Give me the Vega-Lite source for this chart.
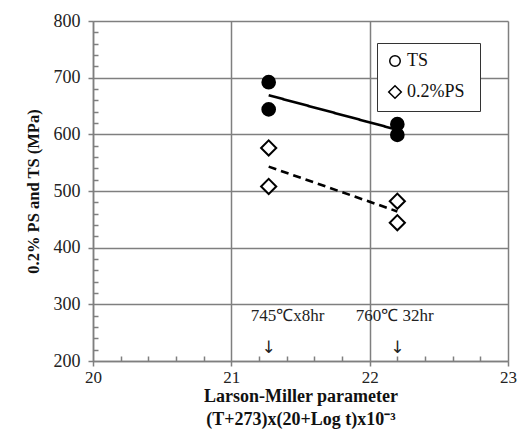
{
  "$schema": "https://vega.github.io/schema/vega-lite/v6.json",
  "autosize": {"type": "none"},
  "width": 415,
  "height": 340,
  "padding": {"left": 93, "top": 21, "right": 11, "bottom": 71},
  "background": "white",
  "config": {
    "font": "Liberation Serif",
    "view": {"stroke": null},
    "axis": {"labelFont": "Liberation Serif", "titleFont": "Liberation Serif"}
  },
  "datasets": {
    "points": [
      {"lmp": 21.27, "stress": 692, "series": "TS"},
      {"lmp": 21.27, "stress": 644, "series": "TS"},
      {"lmp": 22.2, "stress": 618, "series": "TS"},
      {"lmp": 22.2, "stress": 599, "series": "TS"},
      {"lmp": 21.27, "stress": 576, "series": "0.2%PS"},
      {"lmp": 21.27, "stress": 508, "series": "0.2%PS"},
      {"lmp": 22.2, "stress": 482, "series": "0.2%PS"},
      {"lmp": 22.2, "stress": 444, "series": "0.2%PS"}
    ],
    "lines": [
      {"lmp": 21.27, "stress": 669, "fit": "TS mean"},
      {"lmp": 22.2, "stress": 608, "fit": "TS mean"},
      {"lmp": 21.27, "stress": 543, "fit": "PS mean"},
      {"lmp": 22.2, "stress": 464, "fit": "PS mean"}
    ],
    "notes": [
      {"lmp": 21.14, "stress": 279, "label": "745℃x8hr"},
      {"lmp": 21.9, "stress": 279, "label": "760℃ 32hr"}
    ],
    "arrows": [
      {"lmp": 21.27, "stress": 223, "label": "↓"},
      {"lmp": 22.2, "stress": 223, "label": "↓"}
    ]
  },
  "layer": [
    {
      "data": {"name": "lines"},
      "mark": {"type": "line", "color": "black", "strokeWidth": 2.6},
      "encoding": {
        "x": {
          "field": "lmp", "type": "quantitative",
          "scale": {"domain": [20, 23], "nice": false, "zero": false},
          "axis": {
            "title": ["Larson-Miller parameter", "(T+273)x(20+Log  t)x10⁻³"],
            "titleFontSize": 18, "titleFontWeight": "bold", "titleColor": "#111",
            "titlePadding": 2, "titleLineHeight": 23,
            "tickCount": 100,
            "values": [20, 20.2, 20.4, 20.6, 20.8, 21, 21.2, 21.4, 21.6, 21.8, 22, 22.2, 22.4, 22.6, 22.8, 23],
            "labelExpr": "abs(datum.value - round(datum.value)) < 0.001 ? format(datum.value, 'd') : ''",
            "labelFontSize": 17, "labelColor": "#222", "labelPadding": 3,
            "labelFlush": false, "labelOverlap": false,
            "domainColor": "#7f7f7f", "domainWidth": 1.5,
            "tickColor": "#7f7f7f", "tickWidth": 1.5,
            "tickSize": {"condition": {"test": "abs(datum.value - round(datum.value)) < 0.001", "value": 5}, "value": -5},
            "grid": true, "gridColor": "#7f7f7f", "gridWidth": 1.5,
            "gridOpacity": {"condition": {"test": "abs(datum.value - round(datum.value)) < 0.001", "value": 1}, "value": 0}
          }
        },
        "y": {
          "field": "stress", "type": "quantitative",
          "scale": {"domain": [200, 800], "nice": false, "zero": false},
          "axis": {
            "title": "0.2% PS and TS (MPa)",
            "titleFontSize": 16.5, "titleFontWeight": "bold", "titleColor": "#111",
            "titlePadding": 12,
            "tickCount": 100,
            "values": [200, 220, 240, 260, 280, 300, 320, 340, 360, 380, 400, 420, 440, 460, 480, 500, 520, 540, 560, 580, 600, 620, 640, 660, 680, 700, 720, 740, 760, 780, 800],
            "labelExpr": "datum.value % 100 == 0 ? format(datum.value, 'd') : ''",
            "labelFontSize": 18, "labelColor": "#222", "labelPadding": 8,
            "labelFlush": false, "labelOverlap": false,
            "domainColor": "#7f7f7f", "domainWidth": 1.5,
            "tickColor": "#7f7f7f", "tickWidth": 1.5,
            "tickSize": {"condition": {"test": "datum.value % 100 == 0", "value": 5}, "value": -5},
            "grid": true, "gridColor": "#7f7f7f", "gridWidth": 1.5,
            "gridOpacity": {"condition": {"test": "datum.value % 100 == 0", "value": 1}, "value": 0}
          }
        },
        "detail": {"field": "fit"},
        "strokeDash": {
          "field": "fit", "type": "nominal",
          "scale": {"domain": ["TS mean", "PS mean"], "range": [[1, 0], [8, 5]]},
          "legend": null
        }
      }
    },
    {
      "data": {"name": "points"},
      "mark": {"type": "point", "stroke": "black", "strokeWidth": 2, "opacity": 1, "size": 160},
      "encoding": {
        "x": {"field": "lmp", "type": "quantitative"},
        "y": {"field": "stress", "type": "quantitative"},
        "fill": {"condition": {"test": "datum.series === 'TS' || datum.value === 'TS'", "value": "black"}, "value": "white"},
        "shape": {
          "field": "series", "type": "nominal",
          "scale": {"domain": ["TS", "0.2%PS"], "range": ["circle", "M-1.2,0L0,-1.2L1.2,0L0,1.2Z"]},
          "legend": {
            "title": "\u00a0", "titleOrient": "right", "titleFontSize": 18, "titlePadding": 6,
            "orient": "none", "legendX": 284, "legendY": 22,
            "fillColor": "white", "strokeColor": "#333", "padding": 9,
            "labelFont": "Liberation Serif", "labelFontSize": 18, "labelColor": "#111",
            "symbolSize": 110,
            "rowPadding": 12, "labelOffset": 3,
            "encode": {"symbols": {
              "update": {
                "fill": {"signal": "datum.value === 'TS' ? 'black' : 'white'"},
                "stroke": {"value": "black"},
                "strokeWidth": {"value": 2},
                "opacity": {"value": 1}
              },
              "fill": {"signal": "datum.value === 'TS' ? 'black' : 'white'"}
            }}
          }
        }
      }
    },
    {
      "data": {"name": "notes"},
      "mark": {"type": "text", "align": "left", "baseline": "middle", "font": "Liberation Serif", "fontSize": 17, "color": "#222"},
      "encoding": {
        "x": {"field": "lmp", "type": "quantitative"},
        "y": {"field": "stress", "type": "quantitative"},
        "text": {"field": "label"}
      }
    },
    {
      "data": {"name": "arrows"},
      "mark": {"type": "text", "align": "center", "baseline": "middle", "font": "DejaVu Sans", "fontSize": 17, "color": "#222"},
      "encoding": {
        "x": {"field": "lmp", "type": "quantitative"},
        "y": {"field": "stress", "type": "quantitative"},
        "text": {"field": "label"}
      }
    }
  ]
}
